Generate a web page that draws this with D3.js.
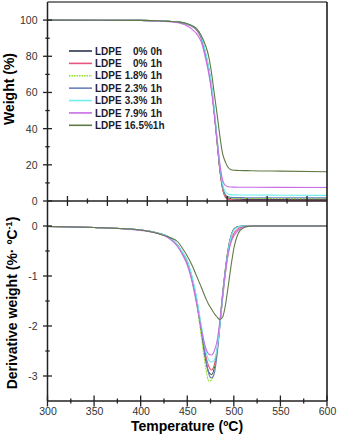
<!DOCTYPE html>
<html><head><meta charset="utf-8">
<script src="https://cdn.jsdelivr.net/npm/d3@7"></script>
<style>
html,body{margin:0;padding:0;background:#fff;}
svg{display:block;font-family:"Liberation Sans",Arial,sans-serif;}
</style></head><body>
<svg id="c" width="337" height="445"></svg>
<script>
// ---- data ----
const temps = [300,350,400,420,430,440,445,450,455,460,465,470,473,476,479,482,485,488,491,494,497,500,505,510,515,520,550,600];
const seriesLabels = [["LDPE","0%","0h"],["LDPE","0%","1h"],["LDPE","1.8%","1h"],["LDPE","2.3%","1h"],["LDPE","3.3%","1h"],["LDPE","7.9%","1h"],["LDPE","16.5%","1h"]];
const seriesColors = ["#2a3550","#e8557f","#8ee020","#6a7fc0","#70eeee","#c86ee8","#607a45"];

const tg_0_0h  = [100,99.95,99.85,99.6,99.3,99.0,98.5,97.8,96.7,94.8,90.5,80.5,73,63,49,33,17.5,7,2.6,1.6,1.2,1.0,0.95,0.9,0.9,0.9,0.85,0.8];
const tg_0_1h  = [100,99.95,99.85,99.6,99.3,98.9,98.4,97.6,96.5,94.5,90,80,72.5,62.5,48.5,32.5,17,6.5,2.0,0.9,0.6,0.5,0.45,0.45,0.4,0.4,0.4,0.35];
const tg_18_1h = [100,99.95,99.85,99.6,99.3,99.0,98.5,97.8,96.8,95,91,81,73.5,63.5,49.5,33.5,18,7.5,3.0,2.0,1.6,1.5,1.45,1.4,1.4,1.4,1.35,1.3];
const tg_23_1h = [100,99.95,99.85,99.6,99.3,99.0,98.5,97.8,96.7,94.8,90.5,80.5,73,63,49,33.5,18,7.8,3.4,2.3,2.0,1.9,1.85,1.85,1.8,1.8,1.8,1.75];
const tg_33_1h = [100,99.95,99.85,99.6,99.3,99.0,98.6,97.9,96.9,95.1,91.2,81.5,74,64.5,51,35.5,20,9.5,5,3.9,3.5,3.4,3.35,3.3,3.3,3.3,3.2,3.1];
const tg_79_1h = [100,99.95,99.8,99.5,99.1,98.6,97.8,96.7,95,92.5,88,78,70.5,61,48,34,20.5,11.5,8.5,7.9,7.7,7.65,7.6,7.6,7.6,7.6,7.55,7.5];
const tg_165_1h= [100,99.95,99.85,99.6,99.3,99.0,98.6,98.0,97.0,95.3,91.5,85.5,80,71,59.5,48,36,26,21.5,18.5,17.3,17.0,16.9,16.8,16.8,16.7,16.5,16.2];

const dtg_0_0h  = [-0.01,-0.03,-0.08,-0.15,-0.22,-0.4,-0.55,-0.72,-1.05,-1.5,-2.1,-2.7,-2.92,-2.97,-2.85,-2.48,-1.95,-1.35,-0.85,-0.45,-0.2,-0.06,-0.01,0,0,0,0,0];
const dtg_0_1h  = [-0.01,-0.03,-0.08,-0.15,-0.23,-0.4,-0.55,-0.74,-1.05,-1.5,-2.05,-2.6,-2.8,-2.88,-2.78,-2.5,-2.0,-1.45,-0.95,-0.55,-0.3,-0.15,-0.05,-0.01,0,0,0,0];
const dtg_18_1h = [-0.01,-0.03,-0.08,-0.15,-0.22,-0.4,-0.55,-0.73,-1.08,-1.55,-2.2,-2.85,-3.1,-3.08,-2.9,-2.5,-1.95,-1.35,-0.85,-0.45,-0.2,-0.06,-0.01,0,0,0,0,0];
const dtg_23_1h = [-0.01,-0.03,-0.08,-0.15,-0.22,-0.39,-0.53,-0.7,-1.02,-1.45,-2.05,-2.68,-2.95,-3.04,-2.95,-2.58,-2.0,-1.4,-0.88,-0.47,-0.2,-0.07,-0.01,0,0,0,0,0];
const dtg_33_1h = [-0.01,-0.03,-0.08,-0.15,-0.22,-0.39,-0.53,-0.7,-1.0,-1.42,-1.98,-2.5,-2.68,-2.72,-2.68,-2.45,-2.0,-1.42,-0.9,-0.5,-0.22,-0.08,-0.02,0,0,0,0,0];
const dtg_79_1h = [-0.01,-0.03,-0.09,-0.16,-0.24,-0.42,-0.58,-0.78,-1.1,-1.55,-2.05,-2.45,-2.56,-2.58,-2.5,-2.3,-1.9,-1.38,-0.9,-0.55,-0.32,-0.2,-0.08,-0.02,0,0,0,0];
const dtg_165_1h= [-0.01,-0.03,-0.08,-0.16,-0.22,-0.32,-0.45,-0.6,-0.78,-1.0,-1.22,-1.45,-1.57,-1.66,-1.75,-1.82,-1.87,-1.82,-1.58,-1.2,-0.8,-0.45,-0.14,-0.04,-0.01,0,0,0];

const tgSeries  = [tg_0_0h,tg_0_1h,tg_18_1h,tg_23_1h,tg_33_1h,tg_79_1h,tg_165_1h];
const dtgSeries = [dtg_0_0h,dtg_0_1h,dtg_18_1h,dtg_23_1h,dtg_33_1h,dtg_79_1h,dtg_165_1h];

const xTickValues = [300,350,400,450,500,550,600];
const xMinorValues = [325,375,425,475,525,575];
const tgTickValues = [0,20,40,60,80,100];
const tgMinorValues = [10,30,50,70,90];
const dtgTickValues = [0,-1,-2,-3];
const dtgMinorValues = [-0.5,-1.5,-2.5];
const topAxisIdx = [1,2,3,4,5,6,7,8,9,10,11,12,13];

// ---- drawing ----
const svg = d3.select("#c");
const L = 47.5, R = 327;
const x = d3.scaleLinear().domain([300,600]).range([L,R]);
const yT = d3.scaleLinear().domain([0,110]).range([201,2]);
const yB = d3.scaleLinear().domain([-3.5,0.5]).range([401,201]);
const topIdx = d3.scaleLinear().domain([0,14]).range([L,R]);
const axisCol = "#222";

const lineT = d3.line().x((d,i)=>x(temps[i])).y(d=>yT(d)).curve(d3.curveMonotoneX);
const lineB = d3.line().x((d,i)=>x(temps[i])).y(d=>yB(d)).curve(d3.curveMonotoneX);

const gC = svg.append("g");
tgSeries.forEach((s,k)=>{
  gC.append("path").attr("d",lineT(s)).attr("fill","none").attr("stroke",seriesColors[k])
    .attr("stroke-width",1.1).attr("stroke-dasharray",k===2?"2,1":null);
});
dtgSeries.forEach((s,k)=>{
  gC.append("path").attr("d",lineB(s)).attr("fill","none").attr("stroke",seriesColors[k])
    .attr("stroke-width",1.1).attr("stroke-dasharray",k===2?"2,1":null);
});

// frame
svg.append("line").attr("x1",L).attr("x2",R).attr("y1",2).attr("y2",2).attr("stroke","#555").attr("stroke-width",1.5);
svg.append("line").attr("x1",R).attr("x2",R).attr("y1",2).attr("y2",401).attr("stroke","#111").attr("stroke-width",1.5);
svg.append("line").attr("x1",L).attr("x2",L).attr("y1",2).attr("y2",401).attr("stroke",axisCol).attr("stroke-width",1.5);

// left axes
function leftAxis(scale, major, minor, fmt){
  const g = svg.append("g").attr("transform",`translate(${L},0)`);
  g.call(d3.axisLeft(scale).tickValues(major).tickSize(0).tickFormat(fmt));
  g.select(".domain").remove();
  g.selectAll(".tick text").attr("x",-10).attr("font-size",10.5).attr("fill","#333")
    .attr("font-family","Liberation Sans, Arial, sans-serif");
  major.forEach(v=>g.append("line").attr("x1",-4.5).attr("x2",4.5).attr("y1",scale(v)).attr("y2",scale(v)).attr("stroke",axisCol).attr("stroke-width",1.3));
  minor.forEach(v=>g.append("line").attr("x1",-2.2).attr("x2",2.2).attr("y1",scale(v)).attr("y2",scale(v)).attr("stroke",axisCol).attr("stroke-width",1.3));
}
leftAxis(yT, tgTickValues, tgMinorValues, d3.format("d"));
leftAxis(yB, dtgTickValues, dtgMinorValues, d=>d===0?"0":String(d).replace("−","-"));

// middle axis (top panel's x axis)
const gM = svg.append("g");
gM.append("line").attr("x1",L).attr("x2",R).attr("y1",201).attr("y2",201).attr("stroke",axisCol).attr("stroke-width",1.5);
topAxisIdx.forEach(i=>{
  const big = i%2===1;
  gM.append("line").attr("x1",topIdx(i)).attr("x2",topIdx(i)).attr("y1",201-(big?5:2.5)).attr("y2",201+(big?5:2.5))
    .attr("stroke",axisCol).attr("stroke-width",1.3);
});

// bottom axis
const gX = svg.append("g").attr("transform","translate(0,401)");
gX.call(d3.axisBottom(x).tickValues(xTickValues).tickSize(0).tickFormat(d3.format("d")));
gX.select(".domain").remove();
gX.selectAll(".tick text").attr("y",7).attr("dy","0.71em").attr("font-size",10.5).attr("fill","#333")
  .attr("font-family","Liberation Sans, Arial, sans-serif");
gX.append("line").attr("x1",L).attr("x2",R).attr("y1",0).attr("y2",0).attr("stroke",axisCol).attr("stroke-width",1.5);
xTickValues.forEach(v=>gX.append("line").attr("x1",x(v)).attr("x2",x(v)).attr("y1",-5.5).attr("y2",5.5).attr("stroke",axisCol).attr("stroke-width",1.3));
xMinorValues.forEach(v=>gX.append("line").attr("x1",x(v)).attr("x2",x(v)).attr("y1",-2.5).attr("y2",2.5).attr("stroke",axisCol).attr("stroke-width",1.3));

// axis titles
svg.append("text").attr("x",187).attr("y",431).attr("text-anchor","middle").attr("font-size",14).attr("font-weight","bold").text("Temperature (ºC)");
svg.append("text").attr("transform","translate(14,89) rotate(-90)").attr("text-anchor","middle").attr("font-size",14).attr("font-weight","bold").text("Weight (%)");
const dt = svg.append("text").attr("transform","translate(17,303) rotate(-90)").attr("text-anchor","middle").attr("font-size",14).attr("font-weight","bold");
dt.append("tspan").text("Derivative weight (%· ºC");
dt.append("tspan").attr("font-size",9).attr("dy",-5).text("-1");
dt.append("tspan").attr("dy",5).text(")");

// legend
const lg = svg.append("g");
const rowY = d3.scaleLinear().domain([0,6]).range([51,125.3]);
seriesLabels.forEach((lab,k)=>{
  const yy = rowY(k);
  lg.append("line").attr("x1",69).attr("x2",92).attr("y1",yy).attr("y2",yy).attr("stroke",seriesColors[k])
    .attr("stroke-width",1.6).attr("stroke-dasharray",k===2?"1.5,1":null);
  const t = lg.append("text").attr("y",yy+3.6).attr("font-size",10).attr("font-weight","bold").attr("fill","#1a1a2a");
  t.append("tspan").attr("x",95).text(lab[0]);
  if(k===6){
    t.append("tspan").attr("x",124.5).text(lab[1]);
    t.append("tspan").text(lab[2]);
  } else {
    lg.append("text").attr("x",147.5).attr("y",yy+3.6).attr("text-anchor","end").attr("font-size",10).attr("font-weight","bold").attr("fill","#1a1a2a").text(lab[1]);
    t.append("tspan").attr("x",150.5).text(lab[2]);
  }
});
</script>
</body></html>
